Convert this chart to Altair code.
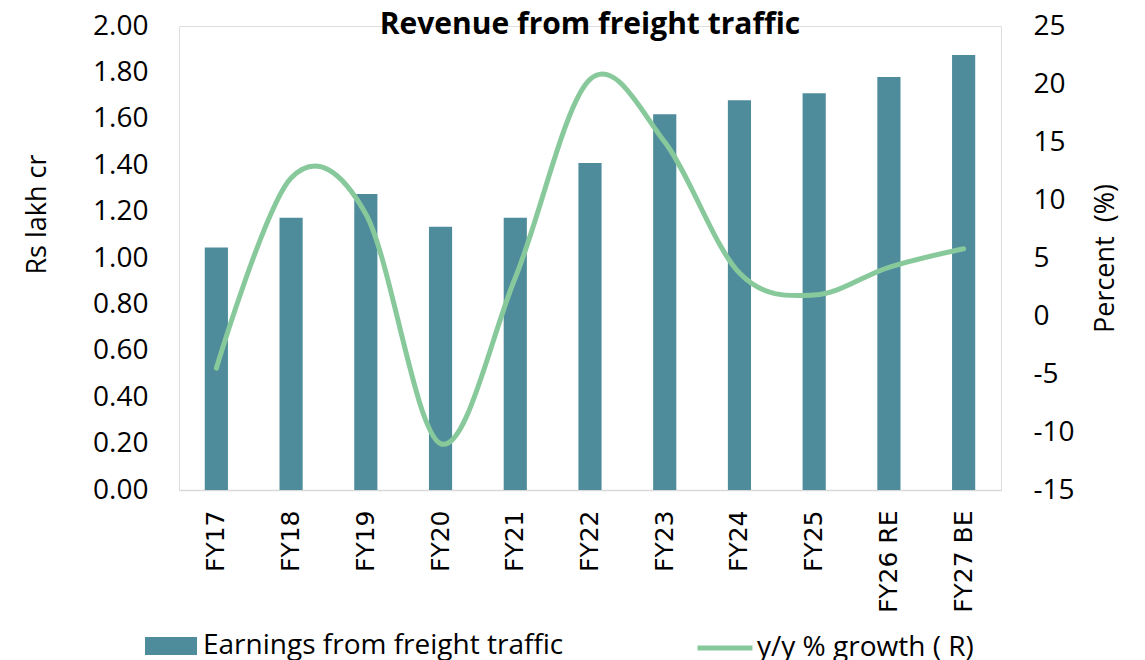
import altair as alt
import pandas as pd

years = ["FY17", "FY18", "FY19", "FY20", "FY21", "FY22", "FY23", "FY24", "FY25", "FY26 RE", "FY27 BE"]
earnings = [1.045, 1.174, 1.276, 1.135, 1.174, 1.41, 1.62, 1.68, 1.71, 1.78, 1.875]
growth = [-4.5, 11.9, 8.8, -11.0, 3.3, 20.4, 15.0, 3.7, 1.8, 4.2, 5.8]
left_ticks = [0.0, 0.2, 0.4, 0.6, 0.8, 1.0, 1.2, 1.4, 1.6, 1.8, 2.0]
right_ticks = [-15, -10, -5, 0, 5, 10, 15, 20, 25]
bar_name = "Earnings from freight traffic"
line_name = "y/y % growth ( R)"

BAR = "#4E8C9C"
LINE = "#88C99B"
FONT = "Open Sans"

df = pd.DataFrame({
    "year": years,
    "earnings": earnings,
    "growth": growth,
    "s1": [bar_name] * len(years),
    "s2": [line_name] * len(years),
})

x = alt.X(
    "year:N",
    sort=years,
    scale=alt.Scale(paddingInner=0, paddingOuter=0),
    axis=alt.Axis(
        title=None, labelAngle=270, labelFont="DejaVu Sans", labelFontSize=25,
        labelColor="black", ticks=False, labelPadding=20,
        domainColor="#D9D9D9", domainWidth=1.5,
    ),
)

bars = alt.Chart(df).mark_bar(width=alt.RelativeBandSize(0.31)).encode(
    x=x,
    y=alt.Y(
        "earnings:Q",
        scale=alt.Scale(domain=[0, 2], nice=False, zero=True),
        axis=alt.Axis(
            values=left_ticks, format=".2f", orient="left", grid=False, domain=False,
            ticks=False, labelPadding=31, labelFont=FONT, labelFontSize=28,
            labelColor="black",
            title="Rs lakh cr", titleFont=FONT, titleFontSize=27, titleFontWeight="normal",
            titleColor="black", titleAngle=270, titleX=-134, titleY=188,
            titleBaseline="alphabetic", titleAlign="center",
        ),
    ),
    fill=alt.Fill(
        "s1:N",
        scale=alt.Scale(domain=[bar_name], range=[BAR]),
        legend=alt.Legend(
            title=None, orient="none", legendX=-34, legendY=594, padding=0,
            symbolType="M-1,-0.35H1V0.35H-1Z", symbolSize=2704, symbolStrokeWidth=0,
            labelFont=FONT, labelFontSize=28, labelColor="black", labelLimit=0,
            labelOffset=6,
        ),
    ),
)

line = alt.Chart(df).mark_line(strokeWidth=5, interpolate="cardinal", strokeCap="round").encode(
    x=x,
    y=alt.Y(
        "growth:Q",
        scale=alt.Scale(domain=[-15, 25], nice=False, zero=False),
        axis=alt.Axis(
            values=right_ticks, orient="right", grid=False, domain=False, ticks=False,
            labelPadding=32, labelFont=FONT, labelFontSize=28, labelColor="black",
            labelExpr="'' + datum.value",
            title="Percent\u00a0 (%)", titleFont=FONT, titleFontSize=27, titleFontWeight="normal",
            titleColor="black", titleAngle=270, titleX=112, titleY=232,
            titleBaseline="alphabetic", titleAlign="center",
        ),
    ),
    stroke=alt.Stroke(
        "s2:N",
        scale=alt.Scale(domain=[line_name], range=[LINE]),
        legend=alt.Legend(
            title=None, orient="none", legendX=516, legendY=592, padding=0,
            symbolType="stroke", symbolSize=3025, symbolStrokeWidth=5,
            labelFont=FONT, labelFontSize=28, labelColor="black", labelLimit=0,
            labelOffset=2,
        ),
    ),
)

chart = alt.layer(bars, line).resolve_scale(y="independent").properties(
    width=822,
    height=464,
    padding={"left": 171, "top": 18, "right": 135, "bottom": 172},
    autosize=alt.AutoSizeParams(type="none"),
    title=alt.TitleParams(
        "Revenue from freight traffic", font=FONT, fontSize=30, fontWeight="bold",
        color="black", anchor="middle", baseline="alphabetic", frame="group",
        offset=0, dy=52,
    ),
).configure_view(stroke=None).configure(background="white")

chart.save("out.html", embed_options={"renderer": "svg", "actions": False})
